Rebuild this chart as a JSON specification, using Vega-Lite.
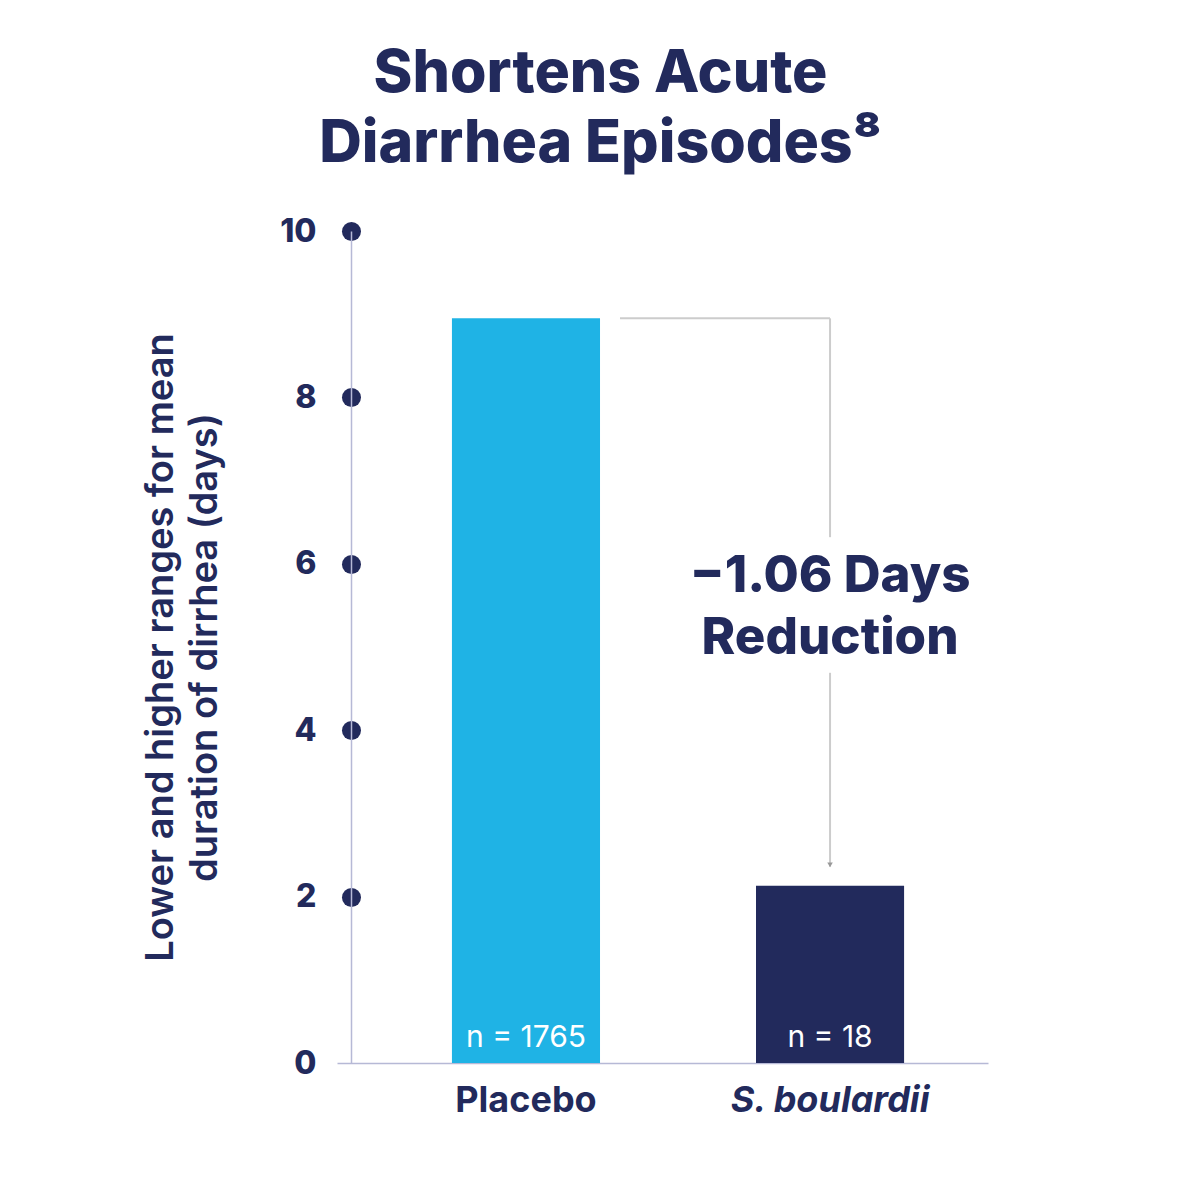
{
  "$schema": "https://vega.github.io/schema/vega-lite/v6.json",
  "autosize": {"type": "none"},
  "width": 651,
  "height": 832,
  "padding": {"left": 337, "top": 231, "right": 212, "bottom": 137},
  "background": "white",
  "config": {"view": {"stroke": null}, "font": "Inter"},
  "title": {
    "text": ["Shortens Acute", "Diarrhea Episodes⁸"],
    "fontSize": 59,
    "font": "Inter",
    "fontWeight": 800,
    "color": "#222a5c",
    "lineHeight": 70,
    "anchor": "middle",
    "dx": -62,
    "baseline": "alphabetic",
    "offset": -6
  },
  "datasets": {
    "bars": [
      {"group": "Placebo", "days": 8.95, "n": "n = 1765"},
      {"group": "S. boulardii", "days": 2.13, "n": "n = 18"}
    ],
    "hline": [{"from": "Placebo", "to": "S. boulardii", "level": 8.95}],
    "vline": [
      {"group": "S. boulardii", "top": 8.95, "bottom": 6.32},
      {"group": "S. boulardii", "top": 4.69, "bottom": 2.36}
    ],
    "arrow": [{"group": "S. boulardii", "tip": 2.38}],
    "note": [{"group": "S. boulardii", "pos": 5.66, "label": ["−1.06 Days", "Reduction"]}]
  },
  "encoding": {
    "x": {
      "field": "group",
      "type": "nominal",
      "sort": ["Placebo", "S. boulardii"],
      "scale": {"domain": ["Placebo", "S. boulardii"], "paddingInner": 0.513, "paddingOuter": 0.327, "align": 0.578},
      "axis": {
        "title": null,
        "domainColor": "#b6b9d6",
        "domainWidth": 1.5,
        "ticks": false,
        "labelAngle": 0,
        "labelLimit": 0,
        "labelFont": "Inter",
        "labelFontSize": 36,
        "labelFontWeight": 700,
        "labelColor": "#222a5c",
        "labelPadding": 20,
        "labelFontStyle": {"condition": {"test": "datum.value == 'S. boulardii'", "value": "italic"}, "value": "normal"}
      }
    }
  },
  "layer": [
    {
      "data": {"name": "bars"},
      "mark": {"type": "bar"},
      "encoding": {
        "y": {
          "field": "days",
          "type": "quantitative",
          "scale": {"domain": [0, 10]},
          "axis": {
            "values": [0, 2, 4, 6, 8, 10],
            "format": "d",
            "title": ["Lower and higher ranges for mean", "duration of dirrhea (days)"],
            "titleFont": "Inter",
            "titleFontSize": 38,
            "titleFontWeight": 600,
            "titleColor": "#222a5c",
            "titleLineHeight": 44,
            "titlePadding": 55,
            "offset": -14,
            "grid": false,
            "domainColor": "#b6b9d6",
            "domainWidth": 1.5,
            "tickCap": "round",
            "tickWidth": 19,
            "tickSize": 0.01,
            "tickColor": {"condition": {"test": "datum.value == 0", "value": "transparent"}, "value": "#222a5c"},
            "labelFont": "Inter",
            "labelFontSize": 32,
            "labelFontWeight": 800,
            "labelColor": "#222a5c",
            "labelPadding": 35
          }
        },
        "color": {
          "field": "group",
          "type": "nominal",
          "scale": {"domain": ["Placebo", "S. boulardii"], "range": ["#1fb3e5", "#222a5c"]},
          "legend": null
        }
      }
    },
    {
      "data": {"name": "bars"},
      "mark": {"type": "text", "color": "white", "font": "Inter", "fontSize": 30, "fontWeight": 400, "baseline": "alphabetic", "dy": -16},
      "encoding": {
        "y": {"datum": 0, "type": "quantitative"},
        "text": {"field": "n"}
      }
    },
    {
      "data": {"name": "hline"},
      "mark": {"type": "rule", "color": "#cccccc", "strokeWidth": 2},
      "encoding": {
        "x": {"field": "from", "type": "nominal", "bandPosition": 1.135},
        "x2": {"field": "to"},
        "y": {"field": "level", "type": "quantitative"}
      }
    },
    {
      "data": {"name": "vline"},
      "mark": {"type": "rule", "color": "#cccccc", "strokeWidth": 2},
      "encoding": {
        "y": {"field": "top", "type": "quantitative"},
        "y2": {"field": "bottom"}
      }
    },
    {
      "data": {"name": "arrow"},
      "mark": {"type": "point", "shape": "triangle-down", "filled": true, "color": "#999999", "size": 30, "opacity": 1},
      "encoding": {
        "y": {"field": "tip", "type": "quantitative"}
      }
    },
    {
      "data": {"name": "note"},
      "mark": {"type": "text", "color": "#222a5c", "font": "Inter", "fontSize": 51, "fontWeight": 800, "baseline": "alphabetic", "lineHeight": 62, "align": "center"},
      "encoding": {
        "y": {"field": "pos", "type": "quantitative"},
        "text": {"field": "label"}
      }
    }
  ]
}
